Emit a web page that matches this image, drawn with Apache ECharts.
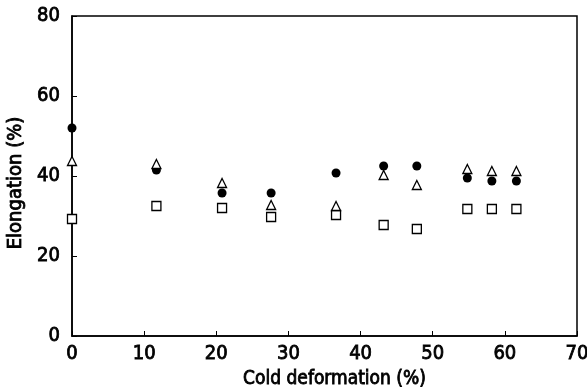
<!DOCTYPE html>
<html><head><meta charset="utf-8">
<script src="https://cdn.jsdelivr.net/npm/echarts@6/dist/echarts.min.js"></script>
<style>html,body{margin:0;padding:0;background:#fff}#c{width:587px;height:389px}</style>
</head><body><div id="c"></div>
<script>
const deformation = [0, 11.7, 20.8, 27.6, 36.6, 43.2, 47.8, 54.8, 58.2, 61.6];
const circles   = [52, 41.5, 35.75, 35.75, 40.75, 42.5, 42.5, 39.5, 38.75, 38.75];
const triangles = [43.75, 43, 38.25, 32.75, 32.5, 40.25, 37.75, 41.75, 41.25, 41.25];
const squares   = [29.25, 32.5, 32, 29.75, 30.25, 27.75, 26.75, 31.75, 31.75, 31.75];
const xTicks = [0, 10, 20, 30, 40, 50, 60, 70];
const yTicks = [0, 20, 40, 60, 80];

const FONT = "'Liberation Sans Narrow','Arial Narrow','DejaVu Sans Condensed',sans-serif";
const pair = (ys) => deformation.map((x, i) => [x, ys[i]]);
const chart = echarts.init(document.getElementById('c'), null, {renderer: 'canvas'});
chart.setOption({
  animation: false,
  backgroundColor: '#fff',
  grid: {left: 72, top: 16, right: 10, bottom: 53, outerBoundsMode: 'none', containLabel: false,
         show: true, borderColor: '#000', borderWidth: 1.5},
  xAxis: {
    type: 'value', min: 0, max: 70, interval: 10,
    name: 'Cold deformation (%)', nameLocation: 'middle', nameGap: 31,
    nameTextStyle: {fontFamily: FONT, fontSize: 19, color: '#000', textBorderColor: '#000', textBorderWidth: 0.8,
      padding: [0, 0, 0, 20]},
    axisLine: {lineStyle: {color: '#000', width: 1.5}},
    axisTick: {inside: true, length: 5, lineStyle: {color: '#000'}},
    axisLabel: {fontFamily: FONT, fontSize: 20, color: '#000', margin: 8, textBorderColor: '#000', textBorderWidth: 0.8,
      formatter: v => xTicks.includes(v) ? String(v) : ''},
    splitLine: {show: false}
  },
  yAxis: {
    type: 'value', min: 0, max: 80, interval: 20,
    name: 'Elongation (%)', nameLocation: 'middle', nameGap: 44, nameRotate: 90,
    nameTextStyle: {fontFamily: FONT, fontSize: 20, color: '#000', textBorderColor: '#000', textBorderWidth: 0.8,
      padding: [0, 14, 0, 0]},
    axisLine: {lineStyle: {color: '#000', width: 1.5}},
    axisTick: {inside: true, length: 5, lineStyle: {color: '#000'}},
    axisLabel: {fontFamily: FONT, fontSize: 20, color: '#000', margin: 12, textBorderColor: '#000', textBorderWidth: 0.8,
      formatter: v => yTicks.includes(v) ? String(v) : ''},
    splitLine: {show: false}
  },
  series: [
    {type: 'scatter', data: pair(squares), symbol: 'rect', symbolSize: 9,
     itemStyle: {color: '#fff', borderColor: '#000', borderWidth: 1.3, opacity: 1}},
    {type: 'scatter', data: pair(circles), symbol: 'circle', symbolSize: 9,
     itemStyle: {color: '#000', opacity: 1}},
    {type: 'scatter', data: pair(triangles), symbol: 'triangle', symbolSize: 9,
     itemStyle: {color: '#fff', borderColor: '#000', borderWidth: 1.3, opacity: 1}}
  ]
});
</script></body></html>
